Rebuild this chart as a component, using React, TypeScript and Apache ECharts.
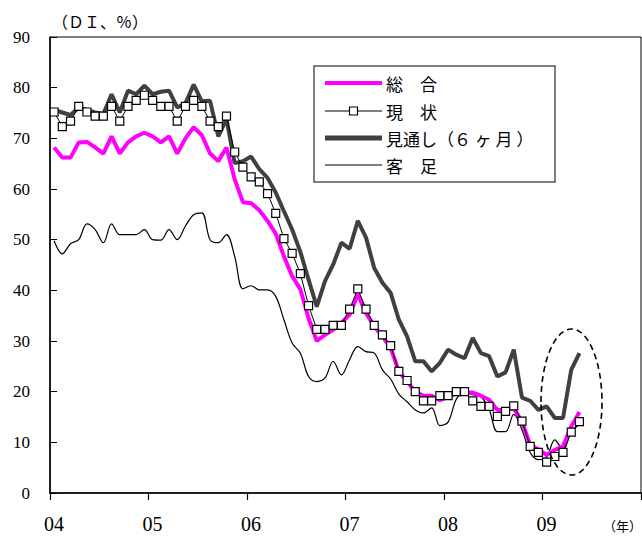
import React, { useEffect, useRef } from "react";
import * as echarts from "echarts";

const years = ["04", "05", "06", "07", "08", "09"];
const monthsOfYear = ["01", "02", "03", "04", "05", "06", "07", "08", "09", "10", "11", "12"];
const categories: string[] = [];
years.forEach((y) => monthsOfYear.forEach((m) => categories.push(y + "-" + m)));

const sogo = [68.2, 66.2, 66.2, 69.2, 69.3, 68.2, 67.0, 70.4, 67.0, 69.2, 70.4, 71.1, 70.4, 69.2, 70.4, 67.0, 70.0, 72.2, 70.6, 67.0, 65.5, 68.2, 61.9, 57.4, 57.2, 55.8, 53.7, 51.2, 46.7, 42.8, 40.2, 34.5, 30.0, 31.2, 32.2, 33.6, 35.2, 39.2, 35.5, 32.9, 30.9, 28.6, 24.0, 22.0, 20.0, 19.2, 19.2, 18.3, 19.0, 19.7, 20.0, 19.8, 19.2, 18.4, 16.4, 16.4, 16.7, 14.1, 9.5, 8.6, 7.5, 8.5, 9.2, 13.1, 16.0];
const genjo = [75.2, 72.3, 73.4, 76.3, 75.2, 74.4, 74.4, 76.3, 73.4, 76.3, 77.5, 78.5, 77.5, 76.3, 76.3, 73.4, 76.3, 77.5, 76.3, 73.4, 72.3, 74.4, 67.3, 64.3, 62.4, 61.4, 59.1, 55.2, 50.2, 47.3, 43.3, 37.0, 32.3, 32.3, 33.1, 33.1, 36.3, 40.3, 36.3, 33.1, 31.2, 29.1, 24.0, 22.2, 20.0, 18.2, 18.2, 19.2, 19.2, 20.0, 20.0, 18.2, 17.1, 17.1, 15.1, 16.1, 17.2, 14.2, 9.2, 8.0, 6.1, 7.2, 8.0, 12.0, 14.1];
const mitoshi = [75.6, 75.1, 74.6, 76.1, 75.6, 75.1, 74.8, 78.7, 75.1, 79.4, 78.7, 80.4, 78.7, 79.2, 79.4, 76.1, 76.9, 80.6, 77.3, 77.4, 70.4, 73.8, 65.1, 65.5, 66.4, 63.9, 62.2, 59.3, 55.6, 52.0, 47.6, 42.1, 36.8, 41.8, 45.1, 49.4, 48.2, 53.7, 50.4, 44.4, 41.5, 39.5, 34.2, 30.9, 26.0, 26.0, 24.0, 25.7, 28.3, 27.3, 26.6, 30.6, 27.6, 27.0, 23.0, 23.8, 28.3, 18.8, 18.2, 16.4, 17.1, 14.8, 14.8, 24.3, 27.6];
const kyakuashi = [49.8, 47.2, 49.2, 50.0, 53.1, 52.0, 49.4, 53.1, 51.0, 51.0, 51.0, 52.0, 50.0, 49.9, 52.0, 50.0, 52.7, 54.9, 55.3, 50.0, 49.4, 51.0, 46.7, 40.3, 40.9, 40.1, 40.1, 38.8, 34.2, 29.6, 27.6, 23.0, 22.0, 22.7, 26.0, 23.3, 26.3, 28.9, 27.9, 27.6, 24.3, 22.5, 19.5, 18.0, 16.4, 15.8, 16.8, 13.3, 14.0, 18.5, 19.8, 19.4, 19.0, 16.5, 12.1, 12.1, 15.5, 12.5, 8.0, 6.6, 7.1, 10.5, 8.5, 12.0, 13.5];

const seriesNames = ["総　合", "現　状", "見通し（６ ヶ 月 ）", "客　足"];
const yTicks = { min: 0, max: 90, interval: 10 };

const JP = '"Noto Sans CJK JP", "Noto Sans", sans-serif';
const SERIF = '"Liberation Serif", "DejaVu Serif", serif';

export default function App() {
  const ref = useRef<HTMLDivElement>(null);
  useEffect(() => {
    if (!ref.current) return;
    const chart = echarts.init(ref.current, undefined, { renderer: "svg" });
    const lx1 = 325, lx2 = 382, tx = 386;
    const rows = [83, 111, 138, 165];
    chart.setOption({
      animation: false,
      backgroundColor: "#fff",
      grid: { left: 50, right: 1, top: 37, bottom: 43, show: true, borderColor: "#000", borderWidth: 1 },
      xAxis: {
        type: "category",
        data: categories,
        boundaryGap: true,
        axisLine: { lineStyle: { color: "#000", width: 1.5 } },
        axisTick: { show: true, inside: false, length: 7, lineStyle: { color: "#000", width: 1.2 }, interval: (i: number) => i % 12 === 0 },
        axisLabel: {
          interval: (i: number) => i % 12 === 0,
          formatter: (v: string) => v.slice(0, 2),
          color: "#000",
          fontFamily: SERIF,
          fontSize: 20,
          margin: 21,
        },
        splitLine: { show: false },
      },
      yAxis: {
        type: "value",
        min: yTicks.min,
        max: yTicks.max,
        interval: yTicks.interval,
        axisLine: { show: true, lineStyle: { color: "#000", width: 1.5 } },
        axisTick: { show: true, inside: true, length: 7, lineStyle: { color: "#000", width: 1 } },
        axisLabel: { color: "#000", fontFamily: SERIF, fontSize: 17, margin: 20 },
        splitLine: { show: false },
      },
      series: [
        {
          name: seriesNames[3], type: "line", data: kyakuashi, smooth: 0.35, symbol: "none",
          lineStyle: { color: "#000", width: 1.2 }, z: 2,
        },
        {
          name: seriesNames[2], type: "line", data: mitoshi, symbol: "none",
          lineStyle: { color: "#404040", width: 4 }, z: 3,
        },
        {
          name: seriesNames[0], type: "line", data: sogo, symbol: "none",
          lineStyle: { color: "#ff00ff", width: 4 }, z: 4,
        },
        {
          name: seriesNames[1], type: "line", data: genjo, symbol: "rect", symbolSize: 8,
          showSymbol: true, showAllSymbol: true,
          lineStyle: { color: "#000", width: 1 },
          itemStyle: { color: "#fff", borderColor: "#000", borderWidth: 1.2 }, z: 5,
        },
      ],
      graphic: [
        { type: "text", left: 52, top: 13, style: { text: "（ＤＩ、％）", font: `16px ${JP}`, fill: "#000" } },
        { type: "text", left: 603, top: 519, style: { text: "（年）", font: `13px ${JP}`, fill: "#000" } },
        { type: "rect", shape: { x: 314, y: 66, width: 241, height: 116 }, style: { fill: "#fff", stroke: "#555", lineWidth: 1.5 }, z: 10 },
        { type: "line", shape: { x1: lx1, y1: rows[0], x2: lx2, y2: rows[0] }, style: { stroke: "#ff00ff", lineWidth: 4 }, z: 11 },
        { type: "line", shape: { x1: lx1, y1: rows[1], x2: lx2, y2: rows[1] }, style: { stroke: "#000", lineWidth: 1 }, z: 11 },
        { type: "rect", shape: { x: (lx1 + lx2) / 2 - 4, y: rows[1] - 4, width: 8, height: 8 }, style: { fill: "#fff", stroke: "#000", lineWidth: 1.2 }, z: 12 },
        { type: "line", shape: { x1: lx1, y1: rows[2], x2: lx2, y2: rows[2] }, style: { stroke: "#404040", lineWidth: 5 }, z: 11 },
        { type: "line", shape: { x1: lx1, y1: rows[3], x2: lx2, y2: rows[3] }, style: { stroke: "#000", lineWidth: 1.2 }, z: 11 },
        ...seriesNames.map((n, k) => ({
          type: "text", x: tx, y: rows[k], z: 12,
          style: { text: n, font: `17px ${JP}`, fill: "#000", verticalAlign: "middle", textAlign: "left" },
        })),
        {
          type: "ellipse", shape: { cx: 571.5, cy: 402, rx: 30.5, ry: 73 },
          style: { fill: "none", stroke: "#000", lineWidth: 1.6, lineDash: [6, 4] }, z: 20,
        },
      ],
    });
    return () => chart.dispose();
  }, []);
  return <div ref={ref} style={{ position: "fixed", left: 0, top: 0, width: 642, height: 536 }} />;
}
